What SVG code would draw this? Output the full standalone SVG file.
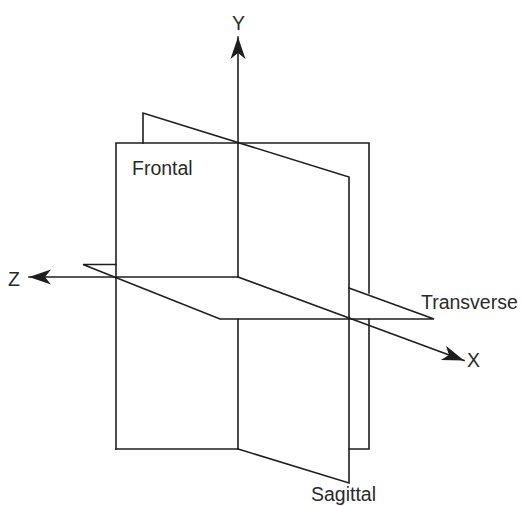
<svg xmlns="http://www.w3.org/2000/svg" width="523" height="506" viewBox="0 0 523 506">
  <style>
    .ln { fill: none; stroke: #1e1e1e; stroke-width: 1.6; stroke-linecap: square; }
    .lbl { font-family: "Liberation Sans", Arial, sans-serif; font-size: 19.5px; fill: #2a2a2a; }
  </style>
  <defs>
    <marker id="arrow" markerUnits="userSpaceOnUse" viewBox="-23 -8 24 16" markerWidth="24" markerHeight="16" refX="0" refY="0" orient="auto">
      <path d="M0,0 L-22,-7.5 L-16,0 L-22,7.5 Z" fill="#1e1e1e"/>
    </marker>
  </defs>
  <rect width="523" height="506" fill="#ffffff"/>

  <g id="frontal">
    <path class="ln" d="M116,449 L116,143 L369,143 L369,293"/>
    <path class="ln" d="M369,319 L369,449 L349,449"/>
    <path class="ln" d="M116,449 L238,449"/>
    <text class="lbl" x="132" y="175">Frontal</text>
  </g>

  <g id="sagittal">
    <path class="ln" d="M143,143 L143,113 L349,177 L349,483 L238,449"/>
    <path class="ln" d="M238,319 L238,449"/>
    <text class="lbl" x="311" y="501">Sagittal</text>
  </g>

  <g id="transverse">
    <path class="ln" d="M116,264.5 L83,264.5 L220,319 L434,319 L349,288"/>
    <text class="lbl" x="421" y="309">Transverse</text>
  </g>

  <g id="connectors">
    <path class="ln" d="M238,277 L238,37" marker-end="url(#arrow)"/>
    <path class="ln" d="M238,277 L29,277" marker-end="url(#arrow)"/>
    <path class="ln" d="M238,277 L464,360.5" marker-end="url(#arrow)"/>
  </g>

  <g id="axis-labels">
    <text class="lbl" x="232" y="30">Y</text>
    <text class="lbl" x="8" y="286">Z</text>
    <text class="lbl" x="467" y="367">X</text>
  </g>
</svg>
